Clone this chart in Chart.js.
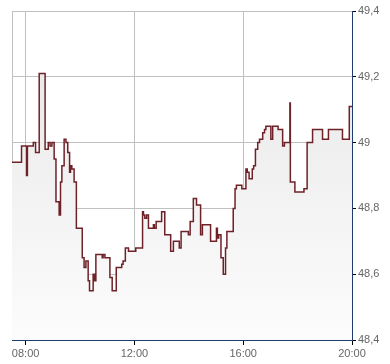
<!DOCTYPE html>
<html>
<head>
<meta charset="utf-8">
<script src="https://cdn.jsdelivr.net/npm/chart.js@4.4.1/dist/chart.umd.min.js"></script>
<style>
  body { margin: 0; background: #fff; }
</style>
</head>
<body>
<canvas id="priceChart" width="390" height="364"></canvas>
<script>
// Trade times (minutes after midnight) and prices
const times = [450, 471, 482, 484, 497, 502, 510, 523, 530, 534,
               538, 543, 547, 554, 557, 560, 565, 569, 573, 577,
               579, 582, 587, 592, 605, 609, 613, 618, 621, 629,
               632, 635, 649, 651, 655, 666, 671, 680, 692, 695,
               700, 707, 723, 738, 740, 743, 747, 751, 762, 764,
               768, 780, 787, 800, 806, 819, 823, 839, 843, 850,
               857, 866, 870, 888, 901, 903, 906, 911, 916, 921,
               924, 938, 942, 945, 957, 966, 969, 973, 980, 983,
               987, 992, 996, 1003, 1007, 1010, 1021, 1025, 1037, 1047,
               1051, 1063, 1064, 1074, 1094, 1101, 1113, 1135, 1148, 1179,
               1194, 1200];
const prices = [48.94, 48.99, 48.90, 48.99, 49.00, 48.97, 49.21, 48.98, 49.00, 48.99,
                49.00, 48.95, 48.82, 48.78, 48.88, 48.93, 49.01, 49.00, 48.97, 48.91,
                48.93, 48.92, 48.88, 48.74, 48.65, 48.62, 48.64, 48.58, 48.55, 48.60,
                48.58, 48.66, 48.65, 48.66, 48.65, 48.59, 48.55, 48.62, 48.63, 48.64,
                48.68, 48.67, 48.68, 48.79, 48.78, 48.77, 48.78, 48.74, 48.75, 48.74,
                48.76, 48.79, 48.72, 48.67, 48.70, 48.68, 48.73, 48.72, 48.76, 48.83,
                48.81, 48.72, 48.75, 48.70, 48.74, 48.71, 48.72, 48.65, 48.60, 48.68,
                48.73, 48.80, 48.86, 48.87, 48.86, 48.92, 48.91, 48.89, 48.92, 48.93,
                48.98, 49.00, 49.01, 49.03, 49.04, 49.05, 49.01, 49.05, 49.04, 48.99,
                49.00, 49.12, 48.88, 48.85, 48.86, 49.00, 49.04, 49.01, 49.04, 49.01,
                49.11, 49.11];

// Axis ticks
const xTicks = [480, 720, 960, 1200];
const xLabels = ["08:00", "12:00", "16:00", "20:00"];
const yTicks = [48.4, 48.6, 48.8, 49.0, 49.2, 49.4];

const points = times.map(function(t, i){ return {x: t, y: prices[i]}; });

// Gray line on the left edge of the plot
const leftFrame = {
    id: "leftFrame",
    beforeDatasetsDraw(chart){
        const ctx = chart.ctx;
        const a = chart.chartArea;
        const x = Math.round(a.left) + 0.5;
        ctx.save();
        ctx.strokeStyle = "#c0c0c0";
        ctx.lineWidth = 1;
        ctx.beginPath();
        ctx.moveTo(x, a.top);
        ctx.lineTo(x, a.bottom);
        ctx.stroke();
        ctx.restore();
    }
};

const canvas = document.getElementById("priceChart").getContext("2d");

new Chart(canvas, {
    type: "line",
    data: {
        datasets: [
            {
                data: points,
                stepped: true,
                borderColor: "#6e2228",
                borderWidth: 1.5,
                pointRadius: 0,
                fill: "start",
                backgroundColor: function(context){
                    const area = context.chart.chartArea;
                    if (!area) return "rgba(0,0,0,0)";
                    const g = context.chart.ctx.createLinearGradient(0, area.top, 0, area.bottom);
                    g.addColorStop(0, "#e6e6e6");
                    g.addColorStop(1, "#fcfcfc");
                    return g;
                },
            },
        ],
    },
    plugins: [leftFrame],
    options: {
        responsive: false,
        animation: false,
        layout: { padding: { left: 12, top: 11, right: 0, bottom: 0 } },
        plugins: {
            legend: { display: false },
            tooltip: { enabled: false },
        },
        scales: {
            x: {
                type: "linear",
                min: 450,
                max: 1200,
                afterBuildTicks: function(scale){
                    scale.ticks = xTicks.map(function(v){ return {value: v}; });
                },
                afterFit: function(scale){ scale.height = 24; },
                grid: { color: "#c0c0c0", tickColor: "#000", tickLength: 5 },
                border: { color: "#1f3b6f", width: 1 },
                ticks: {
                    autoSkip: false,
                    maxRotation: 0,
                    padding: 2,
                    color: "#666",
                    font: { family: "'Liberation Sans', Arial, sans-serif", size: 11 },
                    callback: function(value){ return xLabels[xTicks.indexOf(value)]; },
                },
            },
            y: {
                position: "right",
                min: 48.4,
                max: 49.4,
                afterBuildTicks: function(scale){
                    scale.ticks = yTicks.map(function(v){ return {value: v}; });
                },
                afterFit: function(scale){ scale.width = 38; },
                grid: { color: "#c0c0c0", tickColor: "#000", tickLength: 4 },
                border: { color: "#1f3b6f", width: 1 },
                ticks: {
                    padding: 2,
                    color: "#666",
                    font: { family: "'Liberation Sans', Arial, sans-serif", size: 11 },
                    callback: function(value){ return String(value).replace(".", ","); },
                },
            },
        },
    },
});
</script>
</body>
</html>
